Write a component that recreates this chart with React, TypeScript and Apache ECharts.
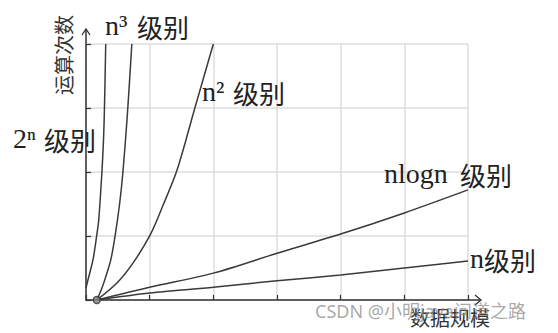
import React, { useEffect, useRef } from "react";
import * as echarts from "echarts";

// Curve readings (x in grid units 0..6, y in grid units 0..4)
const exp2n: [number, number][] = [
  [0, 0.19], [0.03, 0.31], [0.11, 0.63], [0.17, 1.02], [0.2, 1.25],
  [0.25, 2.0], [0.275, 2.5], [0.29, 3.0], [0.31, 4.0],
];
const cubic: [number, number][] = [
  [0.17, 0], [0.24, 0.16], [0.3, 0.33], [0.39, 0.63], [0.46, 1.02],
  [0.53, 1.52], [0.58, 2.0], [0.65, 2.9], [0.72, 4.0],
];
const square: [number, number][] = [
  [0.17, 0], [0.49, 0.27], [0.74, 0.58], [1.01, 1.02], [1.21, 1.48],
  [1.43, 2.03], [1.71, 3.0], [2.0, 4.0],
];
const nlogn: [number, number][] = [
  [0.17, 0], [1.0, 0.2], [2.0, 0.42], [3.0, 0.73], [4.0, 1.03], [5.0, 1.36], [6.0, 1.72],
];
const linear: [number, number][] = [
  [0.17, 0], [1, 0.11], [2, 0.2], [3, 0.3], [4, 0.39], [5, 0.5], [6, 0.61],
];
const originPoint: [number, number][] = [[0.17, 0]];

// label parts: [latin part, CJK part]
const cubicLabel = ["n³", "级别"];
const squareLabel = ["n²", "级别"];
const expLabel = ["2ⁿ", "级别"];
const nlognLabel = ["nlogn", "级别"];
const linearLabel = ["n", "级别"];
const xName = "数据规模";
const yName = "运算次数";
const watermark = "CSDN @小明java问道之路";

export default function App() {
  const ref = useRef<HTMLDivElement>(null);
  useEffect(() => {
    if (!ref.current) return;
    const chart = echarts.init(ref.current, undefined, { renderer: "svg" });
    const axisCommon = {
      type: "value" as const,
      axisLine: { show: true, lineStyle: { color: "#333", width: 1.5 } },
      axisTick: { show: true, inside: true, length: 5, lineStyle: { color: "#333", width: 1.2 } },
      axisLabel: { show: false },
      splitLine: { show: true, lineStyle: { color: "#dcdcdc", width: 1.5 } },
    };
    const lineSeries = (data: [number, number][]) => ({
      type: "line" as const,
      data,
      smooth: 0.3,
      showSymbol: false,
      lineStyle: { color: "#3a3a3a", width: 1.5 },
      z: 3,
    });
    const labelText = (parts: string[], latinWidth: number, x: number, y: number) => ({
      type: "text" as const,
      x,
      y,
      z: 10,
      style: {
        text: `{l|${parts[0]}}{c|${parts[1]}}`,
        align: "left" as const,
        verticalAlign: "middle" as const,
        rich: {
          l: {
            fontSize: 28,
            fontFamily: "'Liberation Serif', serif",
            fill: "#222",
            width: latinWidth,
            lineHeight: 30,
            verticalAlign: "bottom",
          },
          c: {
            fontSize: 26,
            fontFamily: "'Noto Sans CJK SC', sans-serif",
            fill: "#222",
            lineHeight: 30,
            verticalAlign: "bottom",
          },
        },
      },
    });
    chart.setOption({
      animation: false,
      backgroundColor: "#fff",
      grid: { left: 86, right: 90, top: 44, bottom: 33 },
      xAxis: { ...axisCommon, min: 0, max: 6, interval: 1 },
      yAxis: { ...axisCommon, min: 0, max: 4, interval: 1 },
      series: [
        lineSeries(exp2n),
        lineSeries(cubic),
        lineSeries(square),
        lineSeries(nlogn),
        lineSeries(linear),
        {
          type: "scatter",
          data: originPoint,
          symbolSize: 7,
          clip: false,
          itemStyle: { color: "#888", borderColor: "#333", borderWidth: 1.5 },
          z: 5,
        },
      ],
      graphic: [
        { type: "line", shape: { x1: 86, y1: 44, x2: 86, y2: 29 }, style: { stroke: "#333", lineWidth: 1.5 } },
        { type: "polyline", shape: { points: [[82, 35], [86, 29], [90, 35]] }, style: { stroke: "#333", lineWidth: 1.3, fill: "none" } },
        { type: "line", shape: { x1: 468, y1: 300, x2: 481, y2: 300 }, style: { stroke: "#333", lineWidth: 1.5 } },
        { type: "polyline", shape: { points: [[475, 295], [481, 300], [475, 305]] }, style: { stroke: "#333", lineWidth: 1.3, fill: "none" } },
        labelText(cubicLabel, 32, 105, 24),
        labelText(squareLabel, 31, 202, 90),
        labelText(expLabel, 31, 13, 137),
        labelText(nlognLabel, 76, 384, 172),
        labelText(linearLabel, 14, 470, 257),
        {
          type: "text",
          x: 63,
          y: 55,
          rotation: Math.PI / 2,
          z: 10,
          style: {
            text: yName,
            fontSize: 20,
            fontFamily: "'Noto Sans CJK SC', sans-serif",
            fill: "#333",
            align: "center",
            verticalAlign: "middle",
          },
        },
        {
          type: "text",
          x: 410,
          y: 317,
          z: 10,
          style: {
            text: xName,
            fontSize: 20,
            fontFamily: "'Noto Sans CJK SC', sans-serif",
            fill: "#333",
            align: "left",
            verticalAlign: "middle",
          },
        },
        {
          type: "text",
          x: 315,
          y: 311,
          z: 11,
          style: {
            text: watermark,
            fontSize: 18,
            fontFamily: "'Noto Sans', 'Noto Sans CJK SC', sans-serif",
            fill: "rgba(140,140,140,0.75)",
            align: "left",
            verticalAlign: "middle",
          },
        },
      ],
    });
    return () => chart.dispose();
  }, []);
  return (
    <div
      ref={ref}
      style={{ position: "fixed", left: 0, top: 0, width: 558, height: 333, background: "#fff" }}
    />
  );
}
